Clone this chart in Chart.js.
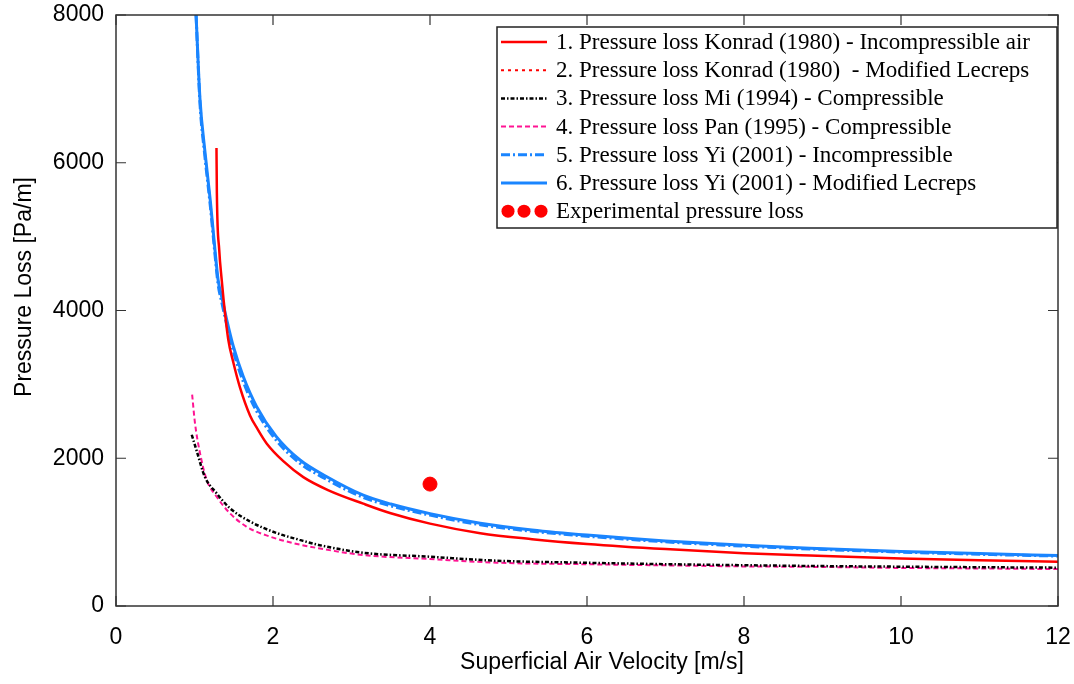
<!DOCTYPE html>
<html>
<head>
<meta charset="utf-8">
<script src="https://cdn.jsdelivr.net/npm/chart.js@4.4.1/dist/chart.umd.min.js"></script>
<style>
  html, body { margin: 0; padding: 0; background: #fff; }
  #wrap { width: 1074px; height: 684px; }
</style>
</head>
<body>
<div id="wrap"><canvas id="c" width="1074" height="684"></canvas></div>
<script>
// Pressure loss vs superficial air velocity.
const konradX = [1.28, 1.285, 1.315, 1.346, 1.37, 1.43, 1.494, 1.579, 1.707, 1.8, 1.919, 2.131, 2.386, 2.7, 3.15, 3.5, 4.0, 4.64, 5.3, 6, 7, 8, 8.84, 10, 11, 12];
const konradY = [6200, 5590, 4820, 4420, 4150, 3607, 3300, 2960, 2580, 2400, 2200, 1960, 1745, 1570, 1385, 1255, 1115, 985, 905, 840, 770, 715, 682, 643, 618, 600];
const miX = [0.965, 1.03, 1.13, 1.28, 1.45, 1.71, 2.05, 2.34, 2.58, 3.15, 4.0, 4.85, 6, 7, 8, 8.84, 10, 11, 12];
const miY = [2318, 2092, 1753, 1528, 1325, 1143, 986, 895, 827, 721, 667, 613, 585, 566, 552, 542, 532, 525, 519];
const panX = [0.97, 1.006, 1.07, 1.155, 1.28, 1.45, 1.66, 1.96, 2.26, 2.58, 3.15, 4.0, 4.85, 6, 7, 8, 8.84, 10, 11, 12];
const panY = [2861, 2477, 2070, 1708, 1482, 1257, 1075, 940, 850, 782, 690, 636, 586, 565, 550, 536, 530, 515, 508, 500];
const yiX = [1.02, 1.07, 1.13, 1.2, 1.26, 1.3, 1.35, 1.41, 1.494, 1.62, 1.79, 2.04, 2.34, 2.68, 3.15, 3.5, 4.0, 4.64, 5.3, 6, 7, 8, 8.84, 10, 11, 12];
const yiIncY = [8000, 6800, 6110, 5430, 4770, 4360, 4100, 3810, 3450, 3040, 2640, 2245, 1935, 1715, 1470, 1355, 1230, 1100, 1012, 945, 868, 810, 772, 730, 700, 676];
const yiModY = [8000, 6860, 6180, 5500, 4830, 4420, 4170, 3878, 3516, 3109, 2702, 2296, 1980, 1753, 1500, 1380, 1250, 1121, 1030, 960, 881, 822, 782, 739, 709, 684];
const expX = [4.0];
const expY = [1650];
const xTicks = [0, 2, 4, 6, 8, 10, 12];
const yTicks = [0, 2000, 4000, 6000, 8000];
const xTitle = 'Superficial Air Velocity [m/s]';
const yTitle = 'Pressure Loss [Pa/m]';

const pts = (xs, ys) => xs.map((x, i) => ({ x, y: ys[i] }));
const line = (label, xs, ys, color, width, dash) => ({
  label, data: pts(xs, ys), showLine: true, borderColor: color, backgroundColor: color,
  borderWidth: width, borderDash: dash, pointRadius: 0, cubicInterpolationMode: 'monotone', fill: false
});

const datasets = [
  line('1. Pressure loss Konrad (1980) - Incompressible air', konradX, konradY, '#ff0000', 2.5, []),
  line('2. Pressure loss Konrad (1980)  - Modified Lecreps', [], [], '#ff0000', 2, [3, 4]),
  line('3. Pressure loss Mi (1994) - Compressible', miX, miY, '#000000', 2.5, [4, 2, 1.5, 2]),
  line('4. Pressure loss Pan (1995) - Compressible', panX, panY, '#ff1493', 2, [5, 3]),
  line('5. Pressure loss Yi (2001) - Incompressible', yiX, yiIncY, '#1a85ff', 3, [9, 3, 2, 3]),
  line('6. Pressure loss Yi (2001) - Modified Lecreps', yiX, yiModY, '#1a85ff', 3, []),
  { label: 'Experimental pressure loss', data: pts(expX, expY), showLine: false, pointRadius: 7,
    pointBackgroundColor: '#ff0000', pointBorderColor: '#ff0000', backgroundColor: '#ff0000', borderColor: '#ff0000' }
];

const axisFont = { family: '"Liberation Sans", Arial, sans-serif', size: 23 };

// frame with inward ticks on all four sides, plus the axis titles
const frame = {
  id: 'frame',
  afterDraw(chart) {
    const { ctx, chartArea: a, scales: { x, y } } = chart;
    ctx.save();
    ctx.strokeStyle = '#333'; ctx.lineWidth = 1.5;
    ctx.strokeRect(a.left, a.top, a.right - a.left, a.bottom - a.top);
    ctx.lineWidth = 1.2; ctx.beginPath();
    xTicks.forEach((v) => { const p = x.getPixelForValue(v); ctx.moveTo(p, a.bottom); ctx.lineTo(p, a.bottom - 10); ctx.moveTo(p, a.top); ctx.lineTo(p, a.top + 10); });
    yTicks.forEach((v) => { const p = y.getPixelForValue(v); ctx.moveTo(a.left, p); ctx.lineTo(a.left + 10, p); ctx.moveTo(a.right, p); ctx.lineTo(a.right - 10, p); });
    ctx.stroke();
    ctx.fillStyle = '#000';
    ctx.font = axisFont.size + 'px ' + axisFont.family;
    ctx.textAlign = 'center'; ctx.textBaseline = 'middle';
    ctx.fillText(xTitle, 602, 663);
    ctx.translate(25, 287); ctx.rotate(-Math.PI / 2);
    ctx.fillText(yTitle, 0, 0);
    ctx.restore();
  }
};

const legendBox = {
  id: 'legendBox',
  afterDraw(chart) {
    const { ctx } = chart;
    const bx = 497, by = 27, bw = 560, bh = 201, rowH = 28.2, y0 = 42;
    ctx.save();
    ctx.fillStyle = '#fff'; ctx.fillRect(bx, by, bw, bh);
    ctx.strokeStyle = '#222'; ctx.lineWidth = 1.5; ctx.strokeRect(bx, by, bw, bh);
    ctx.font = '23px "Liberation Serif", "Times New Roman", serif';
    ctx.textBaseline = 'middle'; ctx.textAlign = 'left';
    chart.data.datasets.forEach((d, i) => {
      const cy = y0 + i * rowH;
      if (d.showLine) {
        ctx.beginPath(); ctx.setLineDash(d.borderDash || []);
        ctx.strokeStyle = d.borderColor; ctx.lineWidth = d.borderWidth;
        ctx.moveTo(501, cy); ctx.lineTo(547, cy); ctx.stroke(); ctx.setLineDash([]);
      } else {
        ctx.fillStyle = d.pointBackgroundColor;
        [508, 524, 541].forEach((cx) => { ctx.beginPath(); ctx.arc(cx, cy, 6.5, 0, Math.PI * 2); ctx.fill(); });
      }
      ctx.fillStyle = '#000';
      ctx.fillText(d.label, 556, cy + 1);
    });
    ctx.restore();
  }
};

new Chart(document.getElementById('c'), {
  type: 'scatter',
  data: { datasets },
  options: {
    responsive: false, animation: false,
    layout: { padding: { top: 15, right: 16, left: 0, bottom: 0 } },
    plugins: { legend: { display: false }, tooltip: { enabled: false } },
    scales: {
      x: {
        type: 'linear', min: 0, max: 12,
        grid: { display: false }, border: { display: false },
        afterBuildTicks: (s) => { s.ticks = xTicks.map((v) => ({ value: v })); },
        afterFit: (s) => { s.height = 78; s.paddingLeft = 0; s.paddingRight = 0; },
        ticks: { color: '#000', font: axisFont, padding: 10, maxRotation: 0, callback: (v) => String(v) },
        title: { display: false }
      },
      y: {
        type: 'linear', min: 0, max: 8000,
        grid: { display: false }, border: { display: false },
        afterBuildTicks: (s) => { s.ticks = yTicks.map((v) => ({ value: v })); },
        afterFit: (s) => { s.width = 116; s.paddingTop = 0; s.paddingBottom = 0; },
        ticks: { color: '#000', font: axisFont, padding: 4, callback: (v) => String(v) },
        title: { display: false }
      }
    }
  },
  plugins: [frame, legendBox]
});
</script>
</body>
</html>
